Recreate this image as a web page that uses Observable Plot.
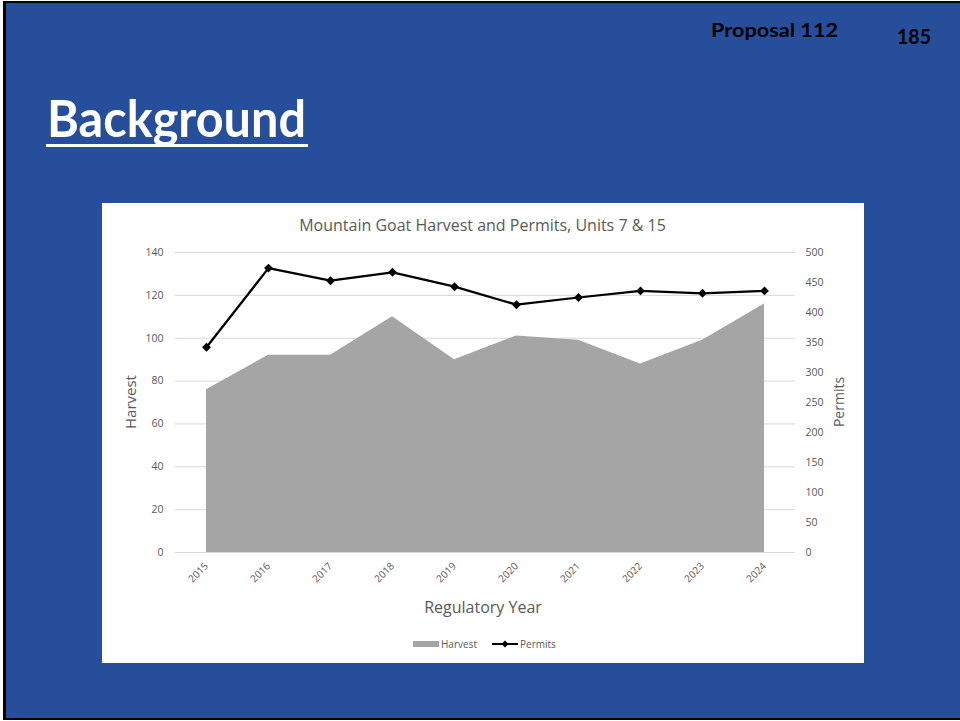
<!DOCTYPE html>
<html>
<head>
<meta charset="utf-8">
<script src="https://cdn.jsdelivr.net/npm/d3@7"></script>
<script src="https://cdn.jsdelivr.net/npm/@observablehq/plot@0.6"></script>
<style>
  html, body { margin:0; padding:0; background:#fff; }
  #page { position:relative; width:960px; height:721px; overflow:hidden; }
  #slide { position:absolute; left:3px; top:1px; width:960px; height:719px; box-sizing:border-box;
           background:#264E9B; border-left:3px solid #000; border-top:2px solid #000; border-bottom:2px solid #000; }
  #box { position:absolute; left:102px; top:203px; width:762px; height:460px; background:#fff; }
  #chart { position:absolute; left:102px; top:203px; }
  #overlay { position:absolute; left:0; top:0; pointer-events:none; }
</style>
</head>
<body>
<div id="page">
  <div id="slide"></div>
  <div id="box"></div>
  <div id="chart"></div>
  <svg id="overlay" width="960" height="721" xmlns="http://www.w3.org/2000/svg">
    <text x="47" y="137" font-family="Lato" font-weight="bold" font-size="51" fill="#fff" textLength="259" lengthAdjust="spacingAndGlyphs">Background</text>
    <rect x="46" y="144" width="262" height="3" fill="#fff"></rect>
    <text x="711" y="37" font-family="Lato" font-weight="bold" font-size="19" fill="#000" textLength="127" lengthAdjust="spacingAndGlyphs">Proposal 112</text>
    <text x="897" y="44" font-family="Lato" font-weight="bold" font-size="21" fill="#000" textLength="34" lengthAdjust="spacingAndGlyphs">185</text>
    <text x="482.5" y="231" text-anchor="middle" font-family="Open Sans" font-size="16" fill="#595959">Mountain Goat Harvest and Permits, Units 7 &amp; 15</text>
    <text transform="translate(136,402) rotate(-90)" text-anchor="middle" font-family="Open Sans" font-size="15" fill="#595959">Harvest</text>
    <text transform="translate(844,402) rotate(-90)" text-anchor="middle" font-family="Open Sans" font-size="14" fill="#595959">Permits</text>
    <text x="483" y="613" text-anchor="middle" font-family="Open Sans" font-size="16" fill="#595959">Regulatory Year</text>
    <rect x="413" y="641" width="26" height="6" fill="#a5a5a5"></rect>
    <text x="441" y="647.5" font-family="Open Sans" font-size="10" fill="#595959">Harvest</text>
    <line x1="492" y1="644" x2="518" y2="644" stroke="#000" stroke-width="2"></line>
    <path d="M505,640.5 L508.5,644 L505,647.5 L501.5,644 Z" fill="#000"></path>
    <text x="520" y="647.5" font-family="Open Sans" font-size="10" fill="#595959">Permits</text>
  </svg>
</div>
<script>
const years = [2015, 2016, 2017, 2018, 2019, 2020, 2021, 2022, 2023, 2024];
const harvest = [76, 92, 92, 110, 90, 101, 99, 88, 99, 116];
const permits = [342, 474, 453, 467, 443, 413, 425, 436, 432, 436];
const harvestTicks = [0, 20, 40, 60, 80, 100, 120, 140];
const permitTicks = [0, 50, 100, 150, 200, 250, 300, 350, 400, 450, 500];

const k = 140 / 500; // permits axis -> harvest axis
const data = years.map((y, i) => ({year: y, harvest: harvest[i], permits: permits[i]}));

const chart = Plot.plot({
  width: 762,
  height: 460,
  marginLeft: 73,
  marginRight: 69,
  marginTop: 49,
  marginBottom: 111,
  style: {fontFamily: "Open Sans", fontSize: "10.5px", color: "#595959", background: "transparent"},
  x: {type: "linear", domain: [2014.5, 2024.5]},
  y: {domain: [0, 140]},
  marks: [
    Plot.gridY(harvestTicks, {stroke: "#d9d9d9", strokeOpacity: 1}),
    Plot.areaY(data, {x: "year", y: "harvest", fill: "#a5a5a5"}),
    Plot.ruleY([0], {stroke: "#d9d9d9"}),
    Plot.lineY(data, {x: "year", y: d => d.permits * k, stroke: "#000", strokeWidth: 2.25}),
    Plot.dot(data, {x: "year", y: d => d.permits * k, symbol: "diamond2", r: 4, fill: "#000"}),
    Plot.axisY(harvestTicks, {anchor: "left", tickSize: 0, tickPadding: 12, label: null}),
    Plot.axisY(permitTicks.map(v => v * k), {anchor: "right", tickSize: 0, tickPadding: 10, tickFormat: d => String(Math.round(d / k)), label: null}),
    Plot.axisX(years, {tickSize: 0, tickPadding: 12, tickRotate: -45, tickFormat: d => String(d), fontSize: 10, label: null})
  ]
});
document.getElementById("chart").appendChild(chart);
</script>
</body>
</html>
